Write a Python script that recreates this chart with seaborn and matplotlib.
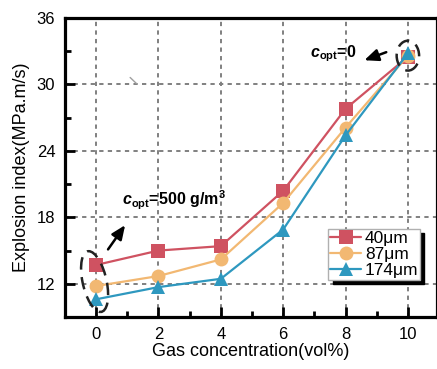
import matplotlib
matplotlib.use("Agg")
import matplotlib.pyplot as plt
from matplotlib.patches import Ellipse
from matplotlib.ticker import MultipleLocator
import numpy as np
import pandas as pd
import seaborn as sns

# Gas concentration (vol%) and explosion index for three particle sizes
gas_conc = [0, 2, 4, 6, 8, 10]
kst_40um = [13.7, 15.0, 15.4, 20.4, 27.8, 32.5]
kst_87um = [11.8, 12.7, 14.2, 19.3, 26.1, 32.6]
kst_174um = [10.6, 11.7, 12.45, 16.9, 25.4, 32.8]
size_labels = ["40\u03bcm", "87\u03bcm", "174\u03bcm"]

x_ticks = [0, 2, 4, 6, 8, 10]
y_ticks = [12, 18, 24, 30, 36]

df = pd.DataFrame({
    "gas": gas_conc * 3,
    "kst": kst_40um + kst_87um + kst_174um,
    "size": [size_labels[0]] * 6 + [size_labels[1]] * 6 + [size_labels[2]] * 6,
})

sns.set_theme(style="white")
plt.rcParams["font.family"] = ["Liberation Sans", "DejaVu Sans"]
plt.rcParams["text.color"] = "black"
plt.rcParams["axes.labelcolor"] = "black"
plt.rcParams["mathtext.fontset"] = "custom"
plt.rcParams["mathtext.rm"] = "Liberation Sans"
plt.rcParams["mathtext.it"] = "Liberation Sans:italic"
plt.rcParams["mathtext.bf"] = "Liberation Sans:bold"
plt.rcParams["mathtext.bfit"] = "Liberation Sans:bold:italic"

palette = {size_labels[0]: "#CF5261", size_labels[1]: "#F2B872", size_labels[2]: "#2E98BF"}
markers = {size_labels[0]: "s", size_labels[1]: "o", size_labels[2]: "^"}

fig = plt.figure(figsize=(4.37, 3.69), dpi=100)
ax = fig.add_axes([0.1487, 0.1409, 0.851, 0.8103])

ax.set_xlim(-1, 10.93)
ax.set_ylim(9, 36)
ax.set_xticks(x_ticks)
ax.set_yticks(y_ticks)
ax.xaxis.set_minor_locator(MultipleLocator(1))
ax.yaxis.set_minor_locator(MultipleLocator(3))
ax.grid(True, which="major", color="#808080", linestyle=(0, (2.2, 2.2)), linewidth=1.4)
ax.set_axisbelow(True)

sns.lineplot(data=df, x="gas", y="kst", hue="size", style="size",
             palette=palette, markers=markers, dashes=False,
             linewidth=1.6, markersize=10, markeredgewidth=0,
             ax=ax, legend=True)

for s in ax.spines.values():
    s.set_linewidth(2.3)
    s.set_color("black")
ax.tick_params(which="major", direction="in", length=7, width=2, labelsize=12,
               colors="black", pad=7)
ax.tick_params(which="minor", direction="in", length=4, width=2, colors="black")
ax.tick_params(axis="both", which="both", bottom=True, left=True, top=False, right=False)

ax.set_xlabel("Gas concentration(vol%)", fontsize=13, labelpad=1, color="black")
ax.set_ylabel("Explosion index(MPa.m/s)", fontsize=13, labelpad=5, color="black")

leg = ax.legend(loc="lower right", bbox_to_anchor=(0.955, 0.125), fontsize=12.5,
                frameon=True, fancybox=False, edgecolor="#B0B0B0",
                shadow={"color": "black", "alpha": 1, "ox": 3, "oy": -3},
                handlelength=1.8, handletextpad=0.2, borderpad=0.1,
                labelspacing=0.05, borderaxespad=0)
leg.get_frame().set_linewidth(1.0)
for t in leg.get_texts():
    t.set_color("black")

# Optimum dust concentration annotations
ax.add_patch(Ellipse((-0.05, 12.2), 0.78, 5.5, angle=4, fill=False,
                     edgecolor="#222222", linewidth=1.8, linestyle=(0, (5, 3)), zorder=5))
ax.annotate("", xy=(0.98, 17.5), xytext=(0.33, 14.9),
            arrowprops=dict(arrowstyle="-|>,head_length=0.7,head_width=0.3",
                            color="black", linewidth=1.8))
ax.text(0.82, 18.45, r"$\mathbfit{c}_{\mathbf{opt}}$=500 g/m$^{\mathbf{3}}$",
        fontsize=11.5, fontweight="bold", ha="left", va="bottom", color="black")

ax.add_patch(Ellipse((10.0, 32.6), 0.72, 2.7, fill=False,
                     edgecolor="#222222", linewidth=1.8, linestyle=(0, (5, 3)), zorder=5))
ax.annotate("", xy=(8.52, 32.1), xytext=(9.39, 33.0),
            arrowprops=dict(arrowstyle="-|>,head_length=0.7,head_width=0.3",
                            color="black", linewidth=1.8))
ax.text(6.85, 32.75, r"$\mathbfit{c}_{\mathbf{opt}}$=0",
        fontsize=11.5, fontweight="bold", ha="left", va="center", color="black")

# small stroke left on the plot area
ax.plot([1.09, 1.29], [30.63, 30.09], color="#A0A0A0", linewidth=1.0)

fig.savefig("out.png", dpi=100)
